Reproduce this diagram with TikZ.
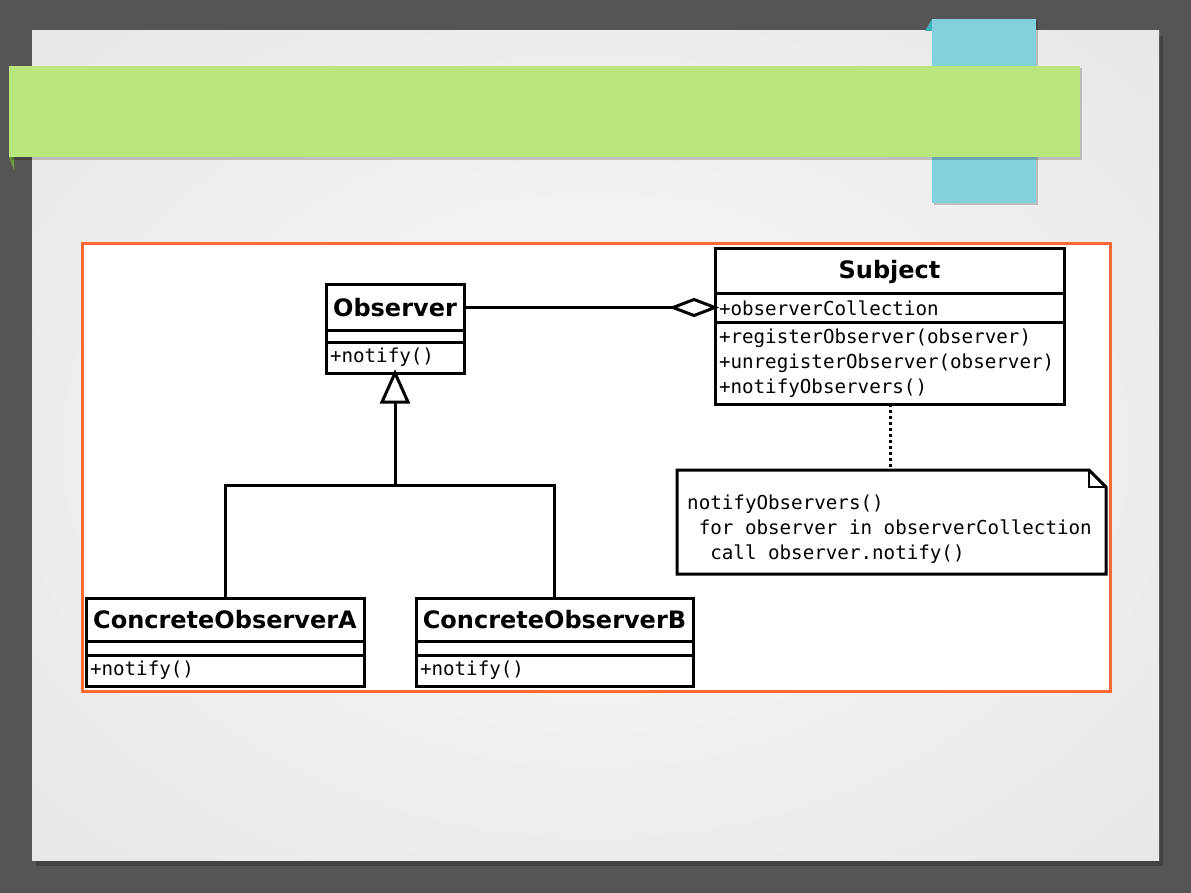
\documentclass[tikz,border=0pt]{standalone}
\usepackage{fontspec}
\newfontfamily\umlbold{DejaVu Sans}
\newfontfamily\umlmono{DejaVu Sans Mono}
\usetikzlibrary{calc}
\definecolor{bgdark}{HTML}{474747}
\definecolor{bgmid}{HTML}{555555}
\definecolor{pagein}{HTML}{F4F4F4}
\definecolor{pageout}{HTML}{E1E1E1}
\definecolor{bannergreen}{HTML}{B9E77E}
\definecolor{foldgreen}{HTML}{6E9E3C}
\definecolor{stripblue}{HTML}{82D1DC}
\definecolor{foldblue}{HTML}{3FAFC0}
\definecolor{frameorange}{HTML}{FF6933}
\pgfdeclareradialshading{pageshade}{\pgfpoint{0bp}{0bp}}{color(0bp)=(pagein); color(10bp)=(pagein); color(50bp)=(pageout); color(100bp)=(pageout)}
\pgfdeclareradialshading{bgshade}{\pgfpoint{0bp}{0bp}}{color(0bp)=(bgmid); color(40bp)=(bgmid); color(70bp)=(bgdark); color(100bp)=(bgdark)}
\tikzset{
  umlline/.style={line width=3pt, black},
  sec/.style={draw, umlline, fill=white, anchor=north west, inner sep=0pt, outer sep=0pt},
  titlesec/.style={sec, font=\umlbold\bfseries\fontsize{24}{28}\selectfont},
  membsec/.style={sec, font=\umlmono\fontsize{19.2}{25}\selectfont, align=left, inner xsep=4pt},
  notetext/.style={font=\umlmono\fontsize{19.2}{25}\selectfont, align=left, anchor=north west, inner sep=0pt}
}
\begin{document}
\begin{tikzpicture}[x=1pt,y=-1pt]
\useasboundingbox (0,0) rectangle (1191,893);
% backdrop
\shade[shading=bgshade] (0,0) rectangle (1191,893);
% page shadow and page
\fill[black, opacity=0.22] (36,36) rectangle (1163,866);
\shade[shading=pageshade] (32,31) rectangle (1159,860);
% blue strip with fold
\fill[foldblue] (925,31) -- (932,19) -- (932,31) -- cycle;
\fill[black, opacity=0.2] (934,21) rectangle (1038,205);
\fill[stripblue] (932,19) rectangle (1036,203);
% green banner with fold
\fill[foldgreen] (9,157) -- (14,157) -- (14,170) -- cycle;
\fill[black, opacity=0.2] (11,68) rectangle (1082,160);
\fill[bannergreen] (9,66) rectangle (1080,157);
% orange frame
\draw[frameorange, line width=3pt, fill=white] (82,244) rectangle (1110,691);

% Observer
\node[titlesec, minimum width=138pt, minimum height=45pt] (obsT) at (326,285) {Observer};
\node[sec, minimum width=138pt, minimum height=12pt] (obsA) at (obsT.south west) {};
\node[membsec, text width=130pt, minimum height=31pt] (obsM) at (obsA.south west) {+notify()};

% Subject
\node[titlesec, minimum width=349pt, minimum height=45pt] (subT) at (715,249) {Subject};
\node[membsec, text width=341pt, minimum height=28pt] (subA) at (subT.south west) {+observerCollection};
\node[membsec, text width=341pt, minimum height=82pt] (subM) at (subA.south west) {+registerObserver(observer)\\+unregisterObserver(observer)\\+notifyObservers()};

% ConcreteObserverA
\node[titlesec, minimum width=278pt, minimum height=43pt] (coAT) at (86,598) {ConcreteObserverA};
\node[sec, minimum width=278pt, minimum height=14pt] (coAA) at (coAT.south west) {};
\node[membsec, text width=270pt, minimum height=31pt] (coAM) at (coAA.south west) {+notify()};

% ConcreteObserverB
\node[titlesec, minimum width=277pt, minimum height=43pt] (coBT) at (416,598) {ConcreteObserverB};
\node[sec, minimum width=277pt, minimum height=14pt] (coBA) at (coBT.south west) {};
\node[membsec, text width=269pt, minimum height=31pt] (coBM) at (coBA.south west) {+notify()};

% Note
\coordinate (nNW) at (677,470);
\coordinate (nSE) at (1106,574);
\draw[umlline, fill=white, line join=miter] (nNW) -- (1089,470) -- (1106,487) -- (nSE) -- (677,574) -- cycle;
\draw[umlline, line width=1.8pt] (1089,470) -- (1089,487) -- (1106,487);
\node[notetext] (note) at (687,495) {notifyObservers()\\\ for observer in observerCollection\\\ \ call observer.notify()};
\coordinate (noteTop) at (890,470);

% association with aggregation diamond
\coordinate (dTip) at (subA.west |- obsT.east);
\coordinate (dBack) at ($(dTip)+(-42,0)$);
\draw[umlline] (obsT.east) -- (dBack);
\draw[umlline, fill=white, line join=miter] (dTip) -- ($(dTip)+(-21,-8)$) -- (dBack) -- ($(dTip)+(-21,8)$) -- cycle;

% dotted note link
\draw[umlline, dash pattern=on 3pt off 3pt] (subM.south -| noteTop) -- (noteTop);

% generalization
\coordinate (triBase) at ($(obsM.south)+(0,29)$);
\coordinate (junc) at ($(obsM.south)+(0,112)$);
\draw[umlline, fill=white, line join=miter] (obsM.south) -- ($(triBase)+(-13,0)$) -- ($(triBase)+(13,0)$) -- cycle;
\draw[umlline] (triBase) -- (junc);
\draw[umlline] (coAT.north) |- (junc) -| (coBT.north);
\end{tikzpicture}
\end{document}
